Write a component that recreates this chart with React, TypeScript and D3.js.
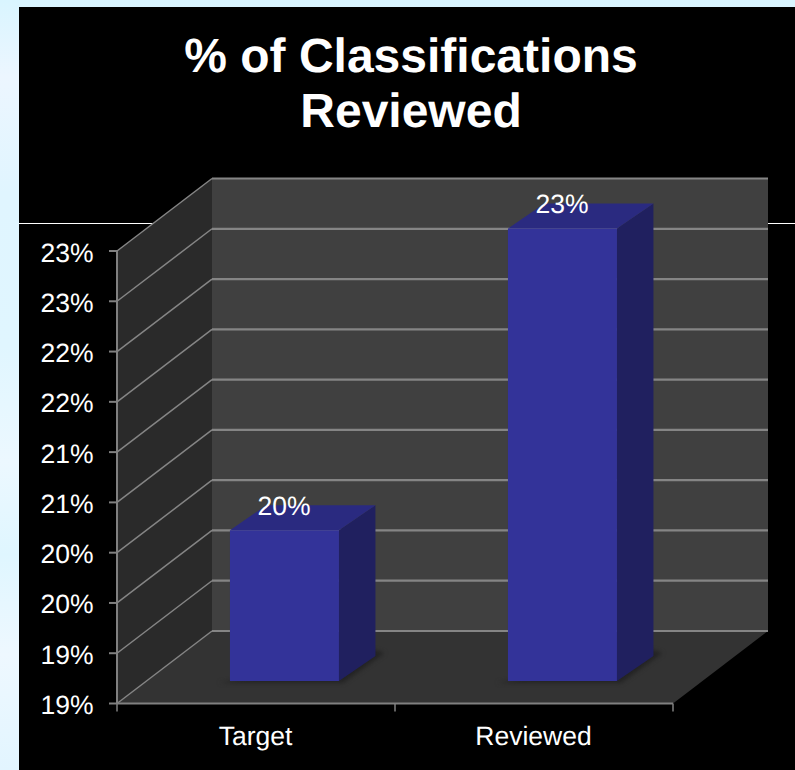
import React from "react";
import * as d3 from "d3";

const categories = ["Target", "Reviewed"];
const reviewedValues = [20, 23];
const valueLabels = ["20%", "23%"];
const tickValues = [18.5, 19, 19.5, 20, 20.5, 21, 21.5, 22, 22.5, 23];
const tickLabels = ["19%", "19%", "20%", "20%", "21%", "21%", "22%", "22%", "23%", "23%"];

const WIDTH = 795;
const HEIGHT = 770;
const FONT = "'Liberation Sans', Arial, sans-serif";

// Oblique projection of the 3D box: depth 0 is the front edge, depth 1 the back wall.
const DEPTH_X = 95;
const DEPTH_Y = -72.5;
const BAR_NEAR = 0.31;
// Receding edge of each bar, in pixels.
const BAR_DX = 36.5;
const BAR_DY = -25;

const x = d3.scaleBand<string>().domain(categories).range([117, 673]);
const y = d3.scaleLinear().domain([18.5, 23]).range([703.5, 251]);
const pt = (px: number, py: number, depth: number): [number, number] => [
  px + DEPTH_X * depth,
  py + DEPTH_Y * depth,
];
const back = (p: [number, number]): [number, number] => [p[0] + BAR_DX, p[1] + BAR_DY];
const poly = (pts: [number, number][]) => (d3.line()(pts) as string) + "Z";

export default function App() {
  const [x0, x1] = x.range();
  const [yBase] = y.range();
  const yTop = y(23);
  const barW = 109;

  return (
    <svg
      width={WIDTH}
      height={HEIGHT}
      style={{ position: "fixed", left: 0, top: 0, display: "block" }}
      fontFamily={FONT}
      textRendering="geometricPrecision"
    >
      <defs>
        <linearGradient id="page" x1="0" y1="0" x2="0" y2="1">
          <stop offset="0" stopColor="#d9f5ff" />
          <stop offset="0.1" stopColor="#ecf6ff" />
          <stop offset="0.25" stopColor="#e0f5ff" />
          <stop offset="0.45" stopColor="#e0f6ff" />
          <stop offset="0.6" stopColor="#ecf8ff" />
          <stop offset="0.72" stopColor="#dff6ff" />
          <stop offset="0.85" stopColor="#eef8ff" />
          <stop offset="1" stopColor="#e2f5ff" />
        </linearGradient>
      </defs>
      <rect width={WIDTH} height={HEIGHT} fill="url(#page)" />
      <rect x={19} y={7} width={WIDTH - 19} height={HEIGHT - 7} fill="#000" />

      <text x={411} y={72} textAnchor="middle" fontSize={48} fontWeight="bold" fill="#fff">
        % of Classifications
      </text>
      <text x={411} y={127} textAnchor="middle" fontSize={48} fontWeight="bold" fill="#fff">
        Reviewed
      </text>

      <line x1={19} x2={WIDTH} y1={223.5} y2={223.5} stroke="#fff" strokeWidth={1} />

      {/* Side wall, floor and back wall */}
      <path
        d={poly([[x0, yTop], pt(x0, yTop, 1), pt(x0, yBase, 1), [x0, yBase]])}
        fill="#2a2a2a"
      />
      <path
        d={poly([[x0, yBase], pt(x0, yBase, 1), pt(x1, yBase, 1), [x1, yBase]])}
        fill="#333333"
      />
      <rect
        x={x0 + DEPTH_X}
        y={yTop + DEPTH_Y}
        width={x1 - x0}
        height={yBase - yTop}
        fill="#404040"
      />

      {/* Gridlines run along the side wall and across the back wall */}
      {tickValues.map((t) => (
        <g key={t} fill="none" stroke="#858585">
          <path strokeWidth={1.5} d={d3.line()([[x0, y(t)], pt(x0, y(t), 1)]) as string} />
          <path
            strokeWidth={2.2}
            d={d3.line()([pt(x0, y(t), 1), pt(x1, y(t), 1)]) as string}
          />
        </g>
      ))}

      {/* Axes */}
      <g stroke="#808080" strokeWidth={2} fill="none">
        <line x1={x0} x2={x0} y1={yTop} y2={yBase} />
        <line x1={x0} x2={x1} y1={yBase} y2={yBase} />
        {tickValues.map((t) => (
          <line key={t} x1={x0 - 8} x2={x0} y1={y(t)} y2={y(t)} />
        ))}
        {[x0, x0 + x.step(), x1].map((px) => (
          <line key={px} x1={px} x2={px} y1={yBase} y2={yBase + 8} strokeWidth={1.5} />
        ))}
      </g>

      {tickValues.map((t, i) => (
        <text key={t} x={93.5} y={y(t) + 10.5} textAnchor="end" fontSize={26.5} fill="#fff">
          {tickLabels[i]}
        </text>
      ))}

      {categories.map((c) => (
        <text
          key={c}
          x={(x(c) as number) + x.bandwidth() / 2 - 0.5}
          y={745}
          textAnchor="middle"
          fontSize={26.5}
          fill="#fff"
        >
          {c}
        </text>
      ))}

      {/* Bars: floor shadow, then front, side and top faces */}
      {categories.map((c, i) => {
        const left = (x(c) as number) + (x.bandwidth() - barW) / 2 - 1;
        const right = left + barW;
        const vTop = y(reviewedValues[i]);
        const fl = pt(left, yBase, BAR_NEAR);
        const fr = pt(right, yBase, BAR_NEAR);
        const br = back(fr);
        const tfl = pt(left, vTop, BAR_NEAR);
        const tfr = pt(right, vTop, BAR_NEAR);
        const tbr = back(tfr);
        const tbl = back(tfl);
        return (
          <g key={c}>
            <path
              d={poly([
                [fl[0] - 11, fl[1] + 2],
                [fr[0] + 4, fr[1] + 2],
                [br[0] + 9, br[1] - 3],
                [br[0], br[1] - 6],
                fl,
              ])}
              fill="#232323"
              style={{ filter: "blur(2px)" }}
            />
            <path d={poly([fr, br, tbr, tfr])} fill="#20205f" />
            <path d={poly([tfl, tfr, tbr, tbl])} fill="#2a2a80" />
            <path d={poly([fl, fr, tfr, tfl])} fill="#333399" />
            <text
              x={(tfl[0] + tfr[0]) / 2 - 0.5}
              y={vTop - 38}
              textAnchor="middle"
              fontSize={26.5}
              fill="#fff"
            >
              {valueLabels[i]}
            </text>
          </g>
        );
      })}
    </svg>
  );
}
